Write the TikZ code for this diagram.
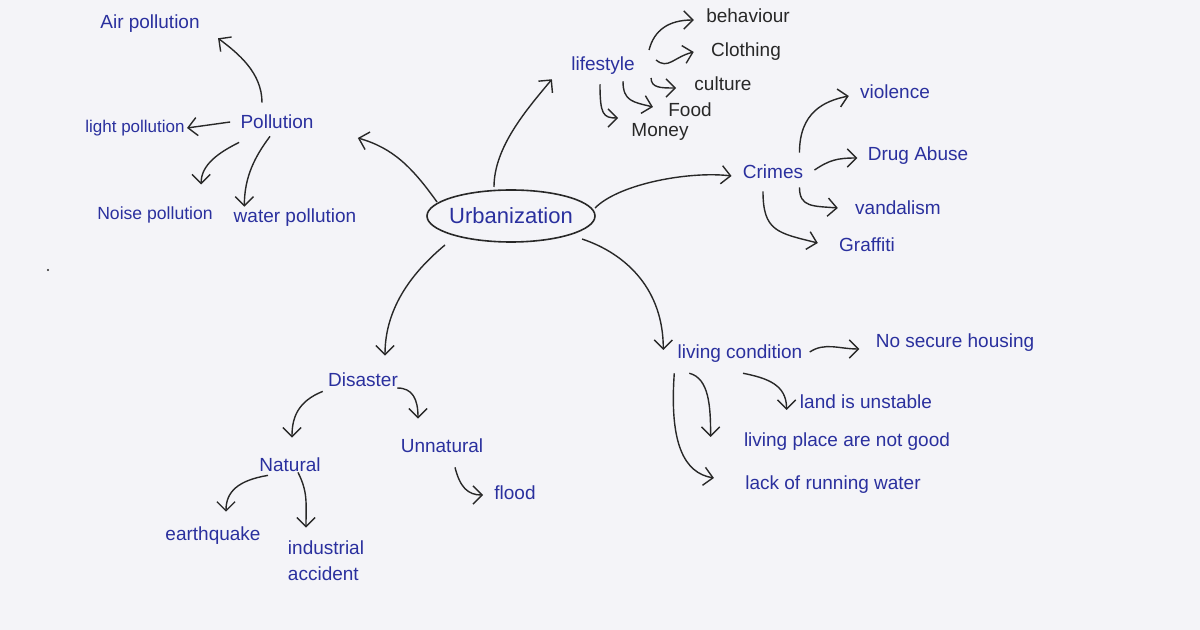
\documentclass[tikz,border=0pt]{standalone}
\usepackage{fontspec}
\setmainfont{Liberation Sans}
\usetikzlibrary{arrows.meta,shapes.geometric}
\definecolor{paper}{RGB}{244,244,248}
\definecolor{ink}{RGB}{42,48,158}
\definecolor{pencil}{RGB}{40,40,40}
\begin{document}
\begin{tikzpicture}[x=0.5pt, y=-0.5pt, every node/.style={font=\fontsize{9.5}{11}\selectfont, inner sep=1pt}, >={Straight Barb[length=1.6mm, width=3.2mm]}, lbl/.style={text=ink}, blk/.style={text=pencil}, arr/.style={->, draw=pencil, line width=0.7pt}]
	\fill[paper] (0,0) rectangle (1200,630);
	\fill[pencil] (48,270) circle (0.6pt);
	% centre
	\node[ellipse, draw=pencil, line width=0.8pt, inner xsep=-2pt, inner ysep=2pt, minimum width=84pt, minimum height=26pt, text=ink, font=\fontsize{11}{13}\selectfont] (urb) at (511,216) {Urbanization};
	% pollution
	\node[lbl] (pol) at (277,122) {Pollution};
	\node[lbl] (air) at (150,24) {Air pollution};
	\node[lbl, font=\fontsize{8.5}{10}\selectfont] (light) at (135,128) {light pollution};
	\node[lbl, font=\fontsize{8.8}{10}\selectfont] (noise) at (155,215) {Noise pollution};
	\node[lbl] (water) at (295,218) {water pollution};
	% lifestyle
	\node[lbl] (life) at (603,66) {lifestyle};
	\node[blk] (beh) at (748,16) {behaviour};
	\node[blk] (cloth) at (746,52) {Clothing};
	\node[blk] (cult) at (723,84) {culture};
	\node[blk] (food) at (690,110) {Food};
	\node[blk] (money) at (660,132) {Money};
	% crimes
	\node[lbl] (crimes) at (773,172) {Crimes};
	\node[lbl] (viol) at (895,92) {violence};
	\node[lbl] (drug) at (918,156) {Drug Abuse};
	\node[lbl] (vand) at (898,208) {vandalism};
	\node[lbl] (graf) at (867,245) {Graffiti};
	% living condition
	\node[lbl] (living) at (740,354) {living condition};
	\node[lbl] (nosec) at (955,343) {No secure housing};
	\node[lbl] (land) at (866,402) {land is unstable};
	\node[lbl] (place) at (847,442) {living place are not good};
	\node[lbl] (lack) at (833,485) {lack of running water};
	% disaster
	\node[lbl] (dis) at (363,380) {Disaster};
	\node[lbl] (nat) at (290,465) {Natural};
	\node[lbl] (unnat) at (442,446) {Unnatural};
	\node[lbl] (flood) at (515,493) {flood};
	\node[lbl] (earth) at (213,536) {earthquake};
	\node[lbl, align=left, font=\fontsize{9.5}{13}\selectfont] (indus) at (326,561) {industrial\\accident};

	\draw[arr] ([shift={(-74,-14)}]urb.center) .. controls +(-25,-35) and +(35,10) .. ([shift={(42,16)}]pol.east);
	\draw[arr] ([shift={(-15,-10)}]pol.north) .. controls +(0,-30) and +(20,15) .. ([shift={(16,3)}]air.south east);
	\draw[arr] ([shift={(-8,0)}]pol.west) -- (light.east);
	\draw[arr] ([shift={(1,11)}]pol.south west) .. controls +(-20,10) and +(0,-20) .. ([shift={(-14,-20)}]noise.north east);
	\draw[arr] ([shift={(-7,5)}]pol.south) .. controls +(-15,20) and +(0,-30) .. ([shift={(13,0)}]water.north west);

	\draw[arr] ([shift={(-17,-29)}]urb.center) .. controls +(0,-40) and +(-25,30) .. ([shift={(-17,2)}]life.south west);
	\draw[arr] ([shift={(12,-16)}]life.east) .. controls +(5,-20) and +(-25,0) .. ([shift={(-10,4)}]beh.west);
	\draw[arr] ([shift={(19,-6)}]life.east) .. controls +(12,10) and +(-20,5) .. ([shift={(-15,0)}]cloth.west);
	\draw[arr] ([shift={(14,12)}]life.east) .. controls +(0,10) and +(-15,0) .. ([shift={(-16,4)}]cult.west);
	\draw[arr] ([shift={(20,4)}]life.south) .. controls +(0,20) and +(-20,-5) .. ([shift={(-13,-3)}]food.west);
	\draw[arr] ([shift={(-3,7)}]life.south) .. controls +(0,30) and +(-15,0) .. ([shift={(-11,-14)}]money.west);

	\draw[arr] ([shift={(84,-8)}]urb.center) .. controls +(25,-25) and +(-40,-5) .. ([shift={(-9,4)}]crimes.west);
	\draw[arr] ([shift={(-6,-10)}]crimes.north east) .. controls +(0,-40) and +(-25,5) .. ([shift={(-9,4)}]viol.west);
	\draw[arr] ([shift={(9,-2)}]crimes.east) .. controls +(15,-10) and +(-20,0) .. ([shift={(-8,2)}]drug.west);
	\draw[arr] ([shift={(-6,6)}]crimes.south east) .. controls +(0,20) and +(-25,-2) .. ([shift={(-15,0)}]vand.west);
	\draw[arr] ([shift={(-10,10)}]crimes.south) .. controls +(0,40) and +(-40,-10) .. ([shift={(-19,-2)}]graf.west);

	\draw[arr] ([shift={(71,23)}]urb.center) .. controls +(45,15) and +(0,-60) .. ([shift={(-12,-4)}]living.west);
	\draw[arr] ([shift={(5,-2)}]living.east) .. controls +(15,-10) and +(-20,0) .. ([shift={(-14,6)}]nosec.west);
	\draw[arr] ([shift={(3,8)}]living.south) .. controls +(25,5) and +(0,-25) .. ([shift={(-11,8)}]land.west);
	\draw[arr] ([shift={(14,8)}]living.south west) .. controls +(20,5) and +(0,-30) .. ([shift={(-31,-5)}]place.west);
	\draw[arr] ([shift={(-1,8)}]living.south west) .. controls +(-5,70) and +(-30,-5) .. ([shift={(-29,-7)}]lack.west);

	\draw[arr] ([shift={(-66,29)}]urb.center) .. controls +(-30,25) and +(0,-50) .. ([shift={(22,-15)}]dis.north);
	\draw[arr] ([shift={(-3,2)}]dis.south west) .. controls +(-25,10) and +(0,-20) .. ([shift={(2,-18)}]nat.north);
	\draw[arr] ([shift={(-3,8)}]dis.east) .. controls +(15,0) and +(0,-20) .. ([shift={(-24,-18)}]unnat.north);
	\draw[arr] ([shift={(-22,1)}]nat.south) .. controls +(-30,5) and +(0,-20) .. ([shift={(13,-13)}]earth.north);
	\draw[arr] ([shift={(8,-2)}]nat.south) .. controls +(10,20) and +(0,-25) .. ([shift={(-20,-11)}]indus.north);
	\draw[arr] ([shift={(13,12)}]unnat.south) .. controls +(5,20) and +(-15,0) .. ([shift={(-9,2)}]flood.west);
\end{tikzpicture}
\end{document}
